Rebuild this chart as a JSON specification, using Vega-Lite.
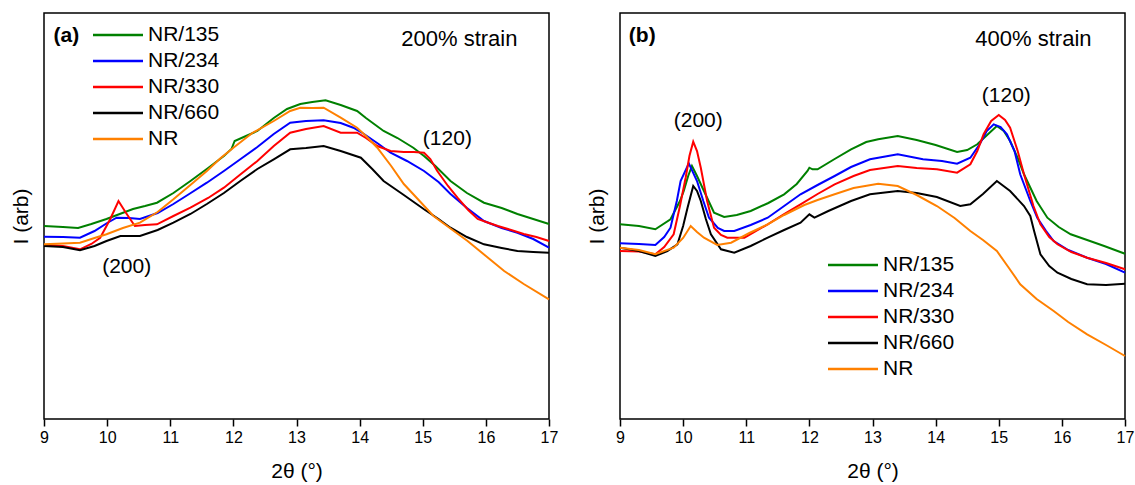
{
"$schema": "https://vega.github.io/schema/vega-lite/v6.json",
"padding": {"left": 9, "top": 12, "right": 4, "bottom": 4},
"config": {
  "font": "Liberation Sans",
  "view": {"stroke": "black", "strokeWidth": 1.5},
  "axis": {"grid": false, "domain": false, "titleFontWeight": "normal", "titleColor": "black", "labelColor": "black", "titleFontSize": 21}
},
"datasets": {
"xrd": [
{"p":"a","s":"NR/135","x":9.0,"v":193},{"p":"a","s":"NR/135","x":9.3,"v":192},{"p":"a","s":"NR/135","x":9.54,"v":191},{"p":"a","s":"NR/135","x":9.75,"v":195},{"p":"a","s":"NR/135","x":9.99,"v":200},{"p":"a","s":"NR/135","x":10.2,"v":205},{"p":"a","s":"NR/135","x":10.41,"v":210},{"p":"a","s":"NR/135","x":10.6,"v":213},{"p":"a","s":"NR/135","x":10.79,"v":216.3},{"p":"a","s":"NR/135","x":11.05,"v":226},{"p":"a","s":"NR/135","x":11.32,"v":238},{"p":"a","s":"NR/135","x":11.6,"v":251},{"p":"a","s":"NR/135","x":11.85,"v":263},{"p":"a","s":"NR/135","x":11.97,"v":270},{"p":"a","s":"NR/135","x":12.02,"v":278},{"p":"a","s":"NR/135","x":12.2,"v":283},{"p":"a","s":"NR/135","x":12.38,"v":288},{"p":"a","s":"NR/135","x":12.64,"v":301},{"p":"a","s":"NR/135","x":12.85,"v":310},{"p":"a","s":"NR/135","x":13.06,"v":315},{"p":"a","s":"NR/135","x":13.25,"v":317},{"p":"a","s":"NR/135","x":13.46,"v":318.7},{"p":"a","s":"NR/135","x":13.7,"v":314},{"p":"a","s":"NR/135","x":13.96,"v":308},{"p":"a","s":"NR/135","x":14.1,"v":301},{"p":"a","s":"NR/135","x":14.38,"v":288},{"p":"a","s":"NR/135","x":14.6,"v":281},{"p":"a","s":"NR/135","x":14.85,"v":271.3},{"p":"a","s":"NR/135","x":15.02,"v":263},{"p":"a","s":"NR/135","x":15.2,"v":253},{"p":"a","s":"NR/135","x":15.44,"v":238},{"p":"a","s":"NR/135","x":15.7,"v":226},{"p":"a","s":"NR/135","x":15.97,"v":216.3},{"p":"a","s":"NR/135","x":16.25,"v":211},{"p":"a","s":"NR/135","x":16.5,"v":205},{"p":"a","s":"NR/135","x":16.75,"v":200},{"p":"a","s":"NR/135","x":17.0,"v":195},
{"p":"a","s":"NR/234","x":9.0,"v":182.3},{"p":"a","s":"NR/234","x":9.3,"v":182},{"p":"a","s":"NR/234","x":9.57,"v":181.3},{"p":"a","s":"NR/234","x":9.8,"v":188},{"p":"a","s":"NR/234","x":10.0,"v":196},{"p":"a","s":"NR/234","x":10.15,"v":201.3},{"p":"a","s":"NR/234","x":10.35,"v":201},{"p":"a","s":"NR/234","x":10.52,"v":200},{"p":"a","s":"NR/234","x":10.8,"v":206},{"p":"a","s":"NR/234","x":11.05,"v":215},{"p":"a","s":"NR/234","x":11.3,"v":225},{"p":"a","s":"NR/234","x":11.58,"v":236.3},{"p":"a","s":"NR/234","x":11.85,"v":248},{"p":"a","s":"NR/234","x":12.11,"v":259.7},{"p":"a","s":"NR/234","x":12.38,"v":272},{"p":"a","s":"NR/234","x":12.64,"v":285},{"p":"a","s":"NR/234","x":12.9,"v":296.3},{"p":"a","s":"NR/234","x":13.15,"v":298},{"p":"a","s":"NR/234","x":13.43,"v":298.7},{"p":"a","s":"NR/234","x":13.7,"v":296},{"p":"a","s":"NR/234","x":13.9,"v":291.3},{"p":"a","s":"NR/234","x":14.07,"v":285},{"p":"a","s":"NR/234","x":14.3,"v":275},{"p":"a","s":"NR/234","x":14.49,"v":266.3},{"p":"a","s":"NR/234","x":14.75,"v":258},{"p":"a","s":"NR/234","x":15.02,"v":248},{"p":"a","s":"NR/234","x":15.25,"v":237},{"p":"a","s":"NR/234","x":15.44,"v":225},{"p":"a","s":"NR/234","x":15.7,"v":211},{"p":"a","s":"NR/234","x":15.97,"v":198},{"p":"a","s":"NR/234","x":16.25,"v":191},{"p":"a","s":"NR/234","x":16.5,"v":186.3},{"p":"a","s":"NR/234","x":16.75,"v":180},{"p":"a","s":"NR/234","x":17.0,"v":171.3},
{"p":"a","s":"NR/330","x":9.0,"v":174},{"p":"a","s":"NR/330","x":9.3,"v":173},{"p":"a","s":"NR/330","x":9.57,"v":169.7},{"p":"a","s":"NR/330","x":9.75,"v":175},{"p":"a","s":"NR/330","x":9.89,"v":181.3},{"p":"a","s":"NR/330","x":10.05,"v":200},{"p":"a","s":"NR/330","x":10.18,"v":218},{"p":"a","s":"NR/330","x":10.3,"v":206},{"p":"a","s":"NR/330","x":10.44,"v":193},{"p":"a","s":"NR/330","x":10.6,"v":194},{"p":"a","s":"NR/330","x":10.79,"v":194.7},{"p":"a","s":"NR/330","x":11.05,"v":203},{"p":"a","s":"NR/330","x":11.32,"v":211.3},{"p":"a","s":"NR/330","x":11.6,"v":221},{"p":"a","s":"NR/330","x":11.85,"v":231.3},{"p":"a","s":"NR/330","x":12.1,"v":244},{"p":"a","s":"NR/330","x":12.38,"v":258},{"p":"a","s":"NR/330","x":12.64,"v":273},{"p":"a","s":"NR/330","x":12.9,"v":286.3},{"p":"a","s":"NR/330","x":13.15,"v":290},{"p":"a","s":"NR/330","x":13.43,"v":293},{"p":"a","s":"NR/330","x":13.7,"v":286.3},{"p":"a","s":"NR/330","x":13.96,"v":286.3},{"p":"a","s":"NR/330","x":14.1,"v":281},{"p":"a","s":"NR/330","x":14.28,"v":273},{"p":"a","s":"NR/330","x":14.49,"v":268},{"p":"a","s":"NR/330","x":14.7,"v":267},{"p":"a","s":"NR/330","x":14.86,"v":267},{"p":"a","s":"NR/330","x":15.02,"v":266.3},{"p":"a","s":"NR/330","x":15.12,"v":260},{"p":"a","s":"NR/330","x":15.23,"v":248},{"p":"a","s":"NR/330","x":15.4,"v":233},{"p":"a","s":"NR/330","x":15.55,"v":221.3},{"p":"a","s":"NR/330","x":15.72,"v":209},{"p":"a","s":"NR/330","x":15.87,"v":200},{"p":"a","s":"NR/330","x":16.05,"v":196},{"p":"a","s":"NR/330","x":16.19,"v":193},{"p":"a","s":"NR/330","x":16.4,"v":189},{"p":"a","s":"NR/330","x":16.6,"v":185},{"p":"a","s":"NR/330","x":16.8,"v":182},{"p":"a","s":"NR/330","x":17.0,"v":178},
{"p":"a","s":"NR/660","x":9.0,"v":173},{"p":"a","s":"NR/660","x":9.3,"v":172},{"p":"a","s":"NR/660","x":9.57,"v":168.7},{"p":"a","s":"NR/660","x":9.8,"v":173},{"p":"a","s":"NR/660","x":9.99,"v":178},{"p":"a","s":"NR/660","x":10.21,"v":183},{"p":"a","s":"NR/660","x":10.52,"v":183},{"p":"a","s":"NR/660","x":10.8,"v":189},{"p":"a","s":"NR/660","x":11.05,"v":196.3},{"p":"a","s":"NR/660","x":11.32,"v":205},{"p":"a","s":"NR/660","x":11.58,"v":215},{"p":"a","s":"NR/660","x":11.85,"v":226},{"p":"a","s":"NR/660","x":12.11,"v":238},{"p":"a","s":"NR/660","x":12.38,"v":250},{"p":"a","s":"NR/660","x":12.64,"v":259.7},{"p":"a","s":"NR/660","x":12.9,"v":269.7},{"p":"a","s":"NR/660","x":13.15,"v":271},{"p":"a","s":"NR/660","x":13.43,"v":273},{"p":"a","s":"NR/660","x":13.7,"v":268},{"p":"a","s":"NR/660","x":14.02,"v":261.3},{"p":"a","s":"NR/660","x":14.2,"v":250},{"p":"a","s":"NR/660","x":14.38,"v":238},{"p":"a","s":"NR/660","x":14.7,"v":224},{"p":"a","s":"NR/660","x":15.02,"v":209.7},{"p":"a","s":"NR/660","x":15.25,"v":200},{"p":"a","s":"NR/660","x":15.44,"v":191.3},{"p":"a","s":"NR/660","x":15.7,"v":182},{"p":"a","s":"NR/660","x":15.97,"v":174.7},{"p":"a","s":"NR/660","x":16.25,"v":171},{"p":"a","s":"NR/660","x":16.5,"v":168},{"p":"a","s":"NR/660","x":16.75,"v":167},{"p":"a","s":"NR/660","x":17.0,"v":166.3},
{"p":"a","s":"NR","x":9.0,"v":174.7},{"p":"a","s":"NR","x":9.3,"v":175.5},{"p":"a","s":"NR","x":9.57,"v":176.3},{"p":"a","s":"NR","x":9.8,"v":181},{"p":"a","s":"NR","x":9.99,"v":184.7},{"p":"a","s":"NR","x":10.25,"v":191},{"p":"a","s":"NR","x":10.52,"v":196.3},{"p":"a","s":"NR","x":10.8,"v":207},{"p":"a","s":"NR","x":11.05,"v":219.7},{"p":"a","s":"NR","x":11.3,"v":233},{"p":"a","s":"NR","x":11.58,"v":248},{"p":"a","s":"NR","x":11.8,"v":261},{"p":"a","s":"NR","x":12.0,"v":271.3},{"p":"a","s":"NR","x":12.3,"v":286},{"p":"a","s":"NR","x":12.64,"v":298},{"p":"a","s":"NR","x":12.9,"v":308},{"p":"a","s":"NR","x":13.06,"v":311.3},{"p":"a","s":"NR","x":13.25,"v":311},{"p":"a","s":"NR","x":13.43,"v":311.3},{"p":"a","s":"NR","x":13.7,"v":301.3},{"p":"a","s":"NR","x":13.96,"v":291.3},{"p":"a","s":"NR","x":14.1,"v":283},{"p":"a","s":"NR","x":14.28,"v":271.3},{"p":"a","s":"NR","x":14.5,"v":253},{"p":"a","s":"NR","x":14.7,"v":235},{"p":"a","s":"NR","x":14.95,"v":218},{"p":"a","s":"NR","x":15.17,"v":203},{"p":"a","s":"NR","x":15.45,"v":190},{"p":"a","s":"NR","x":15.71,"v":178},{"p":"a","s":"NR","x":16.0,"v":163},{"p":"a","s":"NR","x":16.29,"v":148},{"p":"a","s":"NR","x":16.6,"v":135},{"p":"a","s":"NR","x":17.0,"v":119.7},
{"p":"b","s":"NR/135","x":9.0,"v":194.7},{"p":"b","s":"NR/135","x":9.3,"v":193},{"p":"b","s":"NR/135","x":9.56,"v":189.7},{"p":"b","s":"NR/135","x":9.8,"v":199.7},{"p":"b","s":"NR/135","x":9.95,"v":218},{"p":"b","s":"NR/135","x":10.01,"v":228},{"p":"b","s":"NR/135","x":10.08,"v":243},{"p":"b","s":"NR/135","x":10.14,"v":253},{"p":"b","s":"NR/135","x":10.22,"v":243},{"p":"b","s":"NR/135","x":10.33,"v":228},{"p":"b","s":"NR/135","x":10.49,"v":206.3},{"p":"b","s":"NR/135","x":10.65,"v":202},{"p":"b","s":"NR/135","x":10.85,"v":204},{"p":"b","s":"NR/135","x":11.07,"v":208},{"p":"b","s":"NR/135","x":11.35,"v":216},{"p":"b","s":"NR/135","x":11.6,"v":224.7},{"p":"b","s":"NR/135","x":11.8,"v":235},{"p":"b","s":"NR/135","x":11.97,"v":248},{"p":"b","s":"NR/135","x":12.0,"v":251.3},{"p":"b","s":"NR/135","x":12.05,"v":249.7},{"p":"b","s":"NR/135","x":12.13,"v":249.7},{"p":"b","s":"NR/135","x":12.4,"v":260},{"p":"b","s":"NR/135","x":12.66,"v":269.7},{"p":"b","s":"NR/135","x":12.9,"v":277},{"p":"b","s":"NR/135","x":13.09,"v":279.7},{"p":"b","s":"NR/135","x":13.4,"v":283},{"p":"b","s":"NR/135","x":13.7,"v":279},{"p":"b","s":"NR/135","x":14.0,"v":274},{"p":"b","s":"NR/135","x":14.34,"v":267},{"p":"b","s":"NR/135","x":14.5,"v":269},{"p":"b","s":"NR/135","x":14.66,"v":274.7},{"p":"b","s":"NR/135","x":14.85,"v":286},{"p":"b","s":"NR/135","x":14.97,"v":293},{"p":"b","s":"NR/135","x":15.08,"v":288},{"p":"b","s":"NR/135","x":15.18,"v":278},{"p":"b","s":"NR/135","x":15.3,"v":261},{"p":"b","s":"NR/135","x":15.4,"v":244.7},{"p":"b","s":"NR/135","x":15.6,"v":218},{"p":"b","s":"NR/135","x":15.77,"v":201.3},{"p":"b","s":"NR/135","x":15.95,"v":192},{"p":"b","s":"NR/135","x":16.14,"v":184.7},{"p":"b","s":"NR/135","x":16.4,"v":179},{"p":"b","s":"NR/135","x":16.67,"v":173},{"p":"b","s":"NR/135","x":17.0,"v":165.3},
{"p":"b","s":"NR/234","x":9.0,"v":175.7},{"p":"b","s":"NR/234","x":9.3,"v":175},{"p":"b","s":"NR/234","x":9.56,"v":174},{"p":"b","s":"NR/234","x":9.7,"v":182},{"p":"b","s":"NR/234","x":9.8,"v":191.3},{"p":"b","s":"NR/234","x":9.9,"v":218},{"p":"b","s":"NR/234","x":9.96,"v":238},{"p":"b","s":"NR/234","x":10.09,"v":255.7},{"p":"b","s":"NR/234","x":10.22,"v":238},{"p":"b","s":"NR/234","x":10.32,"v":218},{"p":"b","s":"NR/234","x":10.41,"v":201.3},{"p":"b","s":"NR/234","x":10.55,"v":191},{"p":"b","s":"NR/234","x":10.65,"v":188},{"p":"b","s":"NR/234","x":10.81,"v":188},{"p":"b","s":"NR/234","x":11.07,"v":194},{"p":"b","s":"NR/234","x":11.34,"v":201.3},{"p":"b","s":"NR/234","x":11.6,"v":213},{"p":"b","s":"NR/234","x":11.86,"v":224.7},{"p":"b","s":"NR/234","x":12.13,"v":234},{"p":"b","s":"NR/234","x":12.4,"v":243},{"p":"b","s":"NR/234","x":12.66,"v":252},{"p":"b","s":"NR/234","x":12.96,"v":259.7},{"p":"b","s":"NR/234","x":13.4,"v":264.7},{"p":"b","s":"NR/234","x":13.8,"v":259.7},{"p":"b","s":"NR/234","x":14.1,"v":258},{"p":"b","s":"NR/234","x":14.34,"v":255.3},{"p":"b","s":"NR/234","x":14.55,"v":261.3},{"p":"b","s":"NR/234","x":14.7,"v":275},{"p":"b","s":"NR/234","x":14.81,"v":288},{"p":"b","s":"NR/234","x":14.92,"v":294.7},{"p":"b","s":"NR/234","x":15.03,"v":292},{"p":"b","s":"NR/234","x":15.13,"v":284.7},{"p":"b","s":"NR/234","x":15.25,"v":268},{"p":"b","s":"NR/234","x":15.34,"v":244.7},{"p":"b","s":"NR/234","x":15.5,"v":218},{"p":"b","s":"NR/234","x":15.61,"v":201.3},{"p":"b","s":"NR/234","x":15.75,"v":188},{"p":"b","s":"NR/234","x":15.87,"v":178},{"p":"b","s":"NR/234","x":16.1,"v":169},{"p":"b","s":"NR/234","x":16.4,"v":161.3},{"p":"b","s":"NR/234","x":16.7,"v":155},{"p":"b","s":"NR/234","x":17.0,"v":146.3},
{"p":"b","s":"NR/330","x":9.0,"v":168},{"p":"b","s":"NR/330","x":9.3,"v":167.5},{"p":"b","s":"NR/330","x":9.56,"v":164.7},{"p":"b","s":"NR/330","x":9.7,"v":172},{"p":"b","s":"NR/330","x":9.85,"v":184.7},{"p":"b","s":"NR/330","x":9.95,"v":213},{"p":"b","s":"NR/330","x":10.04,"v":241.3},{"p":"b","s":"NR/330","x":10.1,"v":263},{"p":"b","s":"NR/330","x":10.16,"v":277.3},{"p":"b","s":"NR/330","x":10.22,"v":268},{"p":"b","s":"NR/330","x":10.28,"v":251.3},{"p":"b","s":"NR/330","x":10.38,"v":218},{"p":"b","s":"NR/330","x":10.49,"v":191.3},{"p":"b","s":"NR/330","x":10.6,"v":184},{"p":"b","s":"NR/330","x":10.7,"v":181.3},{"p":"b","s":"NR/330","x":10.97,"v":181.3},{"p":"b","s":"NR/330","x":11.34,"v":194.7},{"p":"b","s":"NR/330","x":11.6,"v":205},{"p":"b","s":"NR/330","x":11.86,"v":214.7},{"p":"b","s":"NR/330","x":12.13,"v":225},{"p":"b","s":"NR/330","x":12.4,"v":234.7},{"p":"b","s":"NR/330","x":12.7,"v":243},{"p":"b","s":"NR/330","x":12.96,"v":249},{"p":"b","s":"NR/330","x":13.4,"v":253},{"p":"b","s":"NR/330","x":13.7,"v":251},{"p":"b","s":"NR/330","x":14.02,"v":249.7},{"p":"b","s":"NR/330","x":14.34,"v":246.3},{"p":"b","s":"NR/330","x":14.55,"v":254.7},{"p":"b","s":"NR/330","x":14.66,"v":268},{"p":"b","s":"NR/330","x":14.76,"v":284.7},{"p":"b","s":"NR/330","x":14.88,"v":298},{"p":"b","s":"NR/330","x":15.0,"v":304},{"p":"b","s":"NR/330","x":15.1,"v":299},{"p":"b","s":"NR/330","x":15.18,"v":291.3},{"p":"b","s":"NR/330","x":15.3,"v":268},{"p":"b","s":"NR/330","x":15.4,"v":244.7},{"p":"b","s":"NR/330","x":15.55,"v":213},{"p":"b","s":"NR/330","x":15.66,"v":194.7},{"p":"b","s":"NR/330","x":15.8,"v":182},{"p":"b","s":"NR/330","x":15.93,"v":174.7},{"p":"b","s":"NR/330","x":16.15,"v":167},{"p":"b","s":"NR/330","x":16.4,"v":161.3},{"p":"b","s":"NR/330","x":16.7,"v":156},{"p":"b","s":"NR/330","x":17.0,"v":149.7},
{"p":"b","s":"NR/660","x":9.0,"v":171.3},{"p":"b","s":"NR/660","x":9.3,"v":168},{"p":"b","s":"NR/660","x":9.56,"v":163},{"p":"b","s":"NR/660","x":9.75,"v":168},{"p":"b","s":"NR/660","x":9.91,"v":174.7},{"p":"b","s":"NR/660","x":10.0,"v":193},{"p":"b","s":"NR/660","x":10.07,"v":211.3},{"p":"b","s":"NR/660","x":10.16,"v":233},{"p":"b","s":"NR/660","x":10.22,"v":228},{"p":"b","s":"NR/660","x":10.28,"v":218},{"p":"b","s":"NR/660","x":10.36,"v":200},{"p":"b","s":"NR/660","x":10.44,"v":184.7},{"p":"b","s":"NR/660","x":10.6,"v":169.7},{"p":"b","s":"NR/660","x":10.81,"v":166.3},{"p":"b","s":"NR/660","x":11.07,"v":173},{"p":"b","s":"NR/660","x":11.34,"v":181.3},{"p":"b","s":"NR/660","x":11.6,"v":189},{"p":"b","s":"NR/660","x":11.86,"v":196.3},{"p":"b","s":"NR/660","x":12.0,"v":204.7},{"p":"b","s":"NR/660","x":12.08,"v":201.3},{"p":"b","s":"NR/660","x":12.3,"v":208},{"p":"b","s":"NR/660","x":12.66,"v":218},{"p":"b","s":"NR/660","x":12.96,"v":224.7},{"p":"b","s":"NR/660","x":13.4,"v":228},{"p":"b","s":"NR/660","x":13.7,"v":226},{"p":"b","s":"NR/660","x":14.02,"v":222},{"p":"b","s":"NR/660","x":14.39,"v":213},{"p":"b","s":"NR/660","x":14.55,"v":214.7},{"p":"b","s":"NR/660","x":14.75,"v":225},{"p":"b","s":"NR/660","x":14.97,"v":238},{"p":"b","s":"NR/660","x":15.18,"v":228},{"p":"b","s":"NR/660","x":15.4,"v":213},{"p":"b","s":"NR/660","x":15.5,"v":203},{"p":"b","s":"NR/660","x":15.56,"v":188},{"p":"b","s":"NR/660","x":15.66,"v":164.7},{"p":"b","s":"NR/660","x":15.8,"v":153},{"p":"b","s":"NR/660","x":15.93,"v":146.3},{"p":"b","s":"NR/660","x":16.15,"v":140},{"p":"b","s":"NR/660","x":16.4,"v":134.7},{"p":"b","s":"NR/660","x":16.7,"v":134},{"p":"b","s":"NR/660","x":17.0,"v":135.3},
{"p":"b","s":"NR","x":9.0,"v":171.3},{"p":"b","s":"NR","x":9.3,"v":169},{"p":"b","s":"NR","x":9.56,"v":164.7},{"p":"b","s":"NR","x":9.85,"v":171.3},{"p":"b","s":"NR","x":10.0,"v":181},{"p":"b","s":"NR","x":10.12,"v":193},{"p":"b","s":"NR","x":10.22,"v":187},{"p":"b","s":"NR","x":10.33,"v":181.3},{"p":"b","s":"NR","x":10.54,"v":174},{"p":"b","s":"NR","x":10.76,"v":176.3},{"p":"b","s":"NR","x":11.05,"v":186},{"p":"b","s":"NR","x":11.34,"v":194.7},{"p":"b","s":"NR","x":11.6,"v":204},{"p":"b","s":"NR","x":11.92,"v":214},{"p":"b","s":"NR","x":12.13,"v":219},{"p":"b","s":"NR","x":12.4,"v":224.7},{"p":"b","s":"NR","x":12.7,"v":231},{"p":"b","s":"NR","x":13.09,"v":235.3},{"p":"b","s":"NR","x":13.4,"v":233},{"p":"b","s":"NR","x":13.7,"v":224},{"p":"b","s":"NR","x":14.02,"v":213},{"p":"b","s":"NR","x":14.3,"v":201},{"p":"b","s":"NR","x":14.55,"v":188},{"p":"b","s":"NR","x":14.75,"v":179},{"p":"b","s":"NR","x":14.97,"v":168},{"p":"b","s":"NR","x":15.15,"v":152},{"p":"b","s":"NR","x":15.34,"v":134.7},{"p":"b","s":"NR","x":15.6,"v":120},{"p":"b","s":"NR","x":15.87,"v":108},{"p":"b","s":"NR","x":16.1,"v":97},{"p":"b","s":"NR","x":16.4,"v":84.7},{"p":"b","s":"NR","x":16.7,"v":74},{"p":"b","s":"NR","x":17.0,"v":63}
]
},
"spacing": 26,
"resolve": {"scale": {"color": "independent"}, "legend": {"color": "independent"}},
"hconcat": [
{
  "width": 505, "height": 406,
  "layer": [
    {
      "data": {"name": "xrd"},
      "transform": [{"filter": "datum.p === 'a'"}],
      "mark": {"type": "line", "strokeWidth": 2},
      "encoding": {
        "x": {"field": "x", "type": "quantitative", "scale": {"domain": [9, 17], "nice": false},
          "axis": {"title": "2θ (°)", "values": [9,9.5,10,10.5,11,11.5,12,12.5,13,13.5,14,14.5,15,15.5,16,16.5,17], "labelExpr": "datum.value % 1 === 0 ? format(datum.value, 'd') : ''", "labelFlush": false, "tickSize": {"condition": {"test": "datum.value % 1 === 0", "value": 7}, "value": 4}, "tickColor": "black", "tickWidth": 1.5, "labelFontSize": 16, "labelPadding": 3, "titlePadding": 15}},
        "y": {"field": "v", "type": "quantitative", "scale": {"domain": [0, 406], "nice": false},
          "axis": {"title": "I (arb)", "labels": false, "ticks": false, "titlePadding": 13}},
        "color": {"field": "s", "type": "nominal",
          "scale": {"domain": ["NR/135", "NR/234", "NR/330", "NR/660", "NR"], "range": ["#008000", "#0000FF", "#FF0000", "#000000", "#FF8000"]},
          "legend": {"title": null, "orient": "none", "legendX": 60, "legendY": 8, "symbolType": "M-2,0H2", "symbolSize": 625, "symbolStrokeWidth": 2.5, "labelFontSize": 21, "labelColor": "black", "labelOffset": 16, "rowPadding": 2, "padding": 0}}
      }
    },
    {"data": {"values": [{}]}, "mark": {"type": "text", "fontSize": 21, "fontWeight": "bold", "align": "left", "baseline": "middle", "color": "black"},
     "encoding": {"x": {"datum": 9.15}, "y": {"datum": 383}, "text": {"value": "(a)"}}},
    {"data": {"values": [{}]}, "mark": {"type": "text", "fontSize": 22, "align": "right", "baseline": "middle", "color": "black"},
     "encoding": {"x": {"datum": 16.5}, "y": {"datum": 380}, "text": {"value": "200% strain"}}},
    {"data": {"values": [{}]}, "mark": {"type": "text", "fontSize": 21, "align": "center", "baseline": "middle", "color": "black"},
     "encoding": {"x": {"datum": 10.31}, "y": {"datum": 152}, "text": {"value": "(200)"}}},
    {"data": {"values": [{}]}, "mark": {"type": "text", "fontSize": 21, "align": "center", "baseline": "middle", "color": "black"},
     "encoding": {"x": {"datum": 15.39}, "y": {"datum": 280.5}, "text": {"value": "(120)"}}}
  ]
},
{
  "width": 505, "height": 406,
  "layer": [
    {
      "data": {"name": "xrd"},
      "transform": [{"filter": "datum.p === 'b'"}],
      "mark": {"type": "line", "strokeWidth": 2},
      "encoding": {
        "x": {"field": "x", "type": "quantitative", "scale": {"domain": [9, 17], "nice": false},
          "axis": {"title": "2θ (°)", "values": [9,9.5,10,10.5,11,11.5,12,12.5,13,13.5,14,14.5,15,15.5,16,16.5,17], "labelExpr": "datum.value % 1 === 0 ? format(datum.value, 'd') : ''", "labelFlush": false, "tickSize": {"condition": {"test": "datum.value % 1 === 0", "value": 7}, "value": 4}, "tickColor": "black", "tickWidth": 1.5, "labelFontSize": 16, "labelPadding": 3, "titlePadding": 15}},
        "y": {"field": "v", "type": "quantitative", "scale": {"domain": [0, 406], "nice": false},
          "axis": {"title": "I (arb)", "labels": false, "ticks": false, "titlePadding": 13}},
        "color": {"field": "s", "type": "nominal",
          "scale": {"domain": ["NR/135", "NR/234", "NR/330", "NR/660", "NR"], "range": ["#008000", "#0000FF", "#FF0000", "#000000", "#FF8000"]},
          "legend": {"title": null, "orient": "none", "legendX": 219, "legendY": 238, "symbolType": "M-2,0H2", "symbolSize": 625, "symbolStrokeWidth": 2.5, "labelFontSize": 21, "labelColor": "black", "labelOffset": 16, "rowPadding": 2, "padding": 0}}
      }
    },
    {"data": {"values": [{}]}, "mark": {"type": "text", "fontSize": 21, "fontWeight": "bold", "align": "left", "baseline": "middle", "color": "black"},
     "encoding": {"x": {"datum": 9.14}, "y": {"datum": 383}, "text": {"value": "(b)"}}},
    {"data": {"values": [{}]}, "mark": {"type": "text", "fontSize": 22, "align": "right", "baseline": "middle", "color": "black"},
     "encoding": {"x": {"datum": 16.47}, "y": {"datum": 380}, "text": {"value": "400% strain"}}},
    {"data": {"values": [{}]}, "mark": {"type": "text", "fontSize": 21, "align": "center", "baseline": "middle", "color": "black"},
     "encoding": {"x": {"datum": 10.24}, "y": {"datum": 298}, "text": {"value": "(200)"}}},
    {"data": {"values": [{}]}, "mark": {"type": "text", "fontSize": 21, "align": "center", "baseline": "middle", "color": "black"},
     "encoding": {"x": {"datum": 15.12}, "y": {"datum": 323}, "text": {"value": "(120)"}}}
  ]
}
]
}
